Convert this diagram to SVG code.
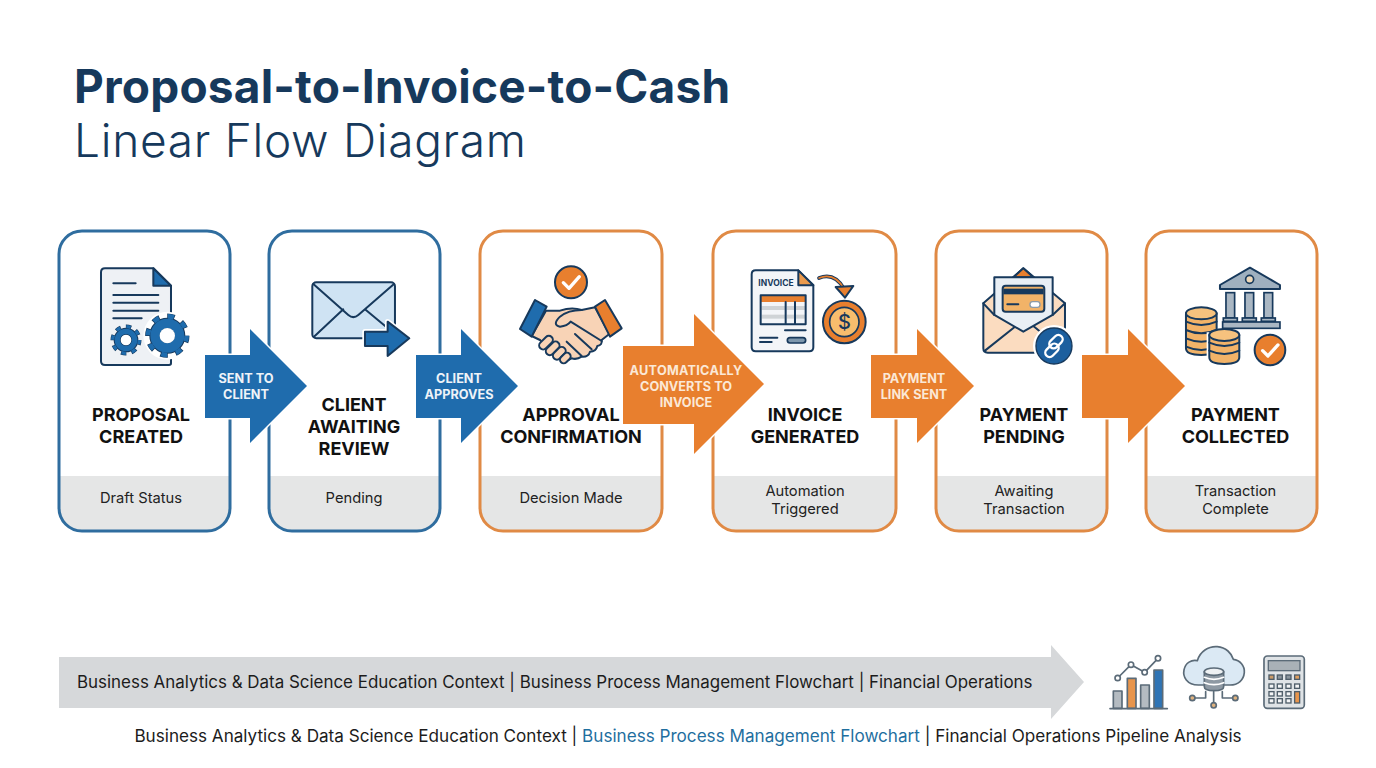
<svg xmlns="http://www.w3.org/2000/svg" width="1376" height="768" viewBox="0 0 1376 768">
<style>
text{font-family:Inter,"Noto Sans","Liberation Sans",sans-serif}
.t1{font-size:46px;font-weight:700;fill:#16395c;letter-spacing:.2px}
.t2{font-size:46px;font-weight:300;fill:#16395c;letter-spacing:.72px}
.card{fill:#fff;stroke-width:3}
.b{stroke:#2f6d9f}.o{stroke:#e08a45}
.band{fill:#e5e6e6}
.lab{font-size:18px;font-weight:700;fill:#111;text-anchor:middle}
.sub{font-size:14.7px;fill:#222;text-anchor:middle}
.al{font-size:12.7px;font-weight:700;fill:#eef3f8;text-anchor:middle}
.ao{fill:#fbe8d6}
.arr{stroke:#fff;stroke-width:3;paint-order:stroke}
.ab{fill:#1f6cad}.aor{fill:#e87f2e}
.ic{stroke:#17395c;stroke-width:6;stroke-linejoin:round;stroke-linecap:round}
.ln{fill:none;stroke:#17395c;stroke-width:6;stroke-linecap:round;stroke-linejoin:round}
.wl{fill:none;stroke:#fff;stroke-linecap:round;stroke-linejoin:round}
.gy{stroke:#5b6b78;stroke-width:5;stroke-linejoin:round;stroke-linecap:round}
.foot{font-size:16.93px;fill:#1c1c1c}
.foot2{font-size:17.13px;fill:#1c1c1c}
</style>
<rect width="1376" height="768" fill="#fff"/>
<g id="title">
<text class="t1" x="74" y="103">Proposal-to-Invoice-to-Cash</text>
<text class="t2" x="74" y="157">Linear Flow Diagram</text>
</g>
<defs>
<clipPath id="c1"><rect x="59" y="231" width="171" height="300" rx="23"/></clipPath>
<clipPath id="c2"><rect x="269" y="231" width="171" height="300" rx="23"/></clipPath>
<clipPath id="c3"><rect x="480" y="231" width="182" height="300" rx="23"/></clipPath>
<clipPath id="c4"><rect x="713" y="231" width="183" height="300" rx="23"/></clipPath>
<clipPath id="c5"><rect x="936" y="231" width="171" height="300" rx="23"/></clipPath>
<clipPath id="c6"><rect x="1146" y="231" width="171" height="300" rx="23"/></clipPath>
</defs>

<g id="node-proposal-created">
<rect class="card" x="59" y="231" width="171" height="300" rx="23" stroke="none"/>
<rect class="band" x="59" y="476" width="171" height="55" clip-path="url(#c1)"/>
<rect class="card b" x="59" y="231" width="171" height="300" rx="23" style="fill:none"/>
<g transform="translate(95,260) scale(.3333)">
<path class="ic" d="M30,25H175L228,77V310Q228,315 222,315H30Q18,315 18,303V37Q18,25 30,25Z" fill="#eef1f5"/>
<path class="ic" d="M175,25V77H228Z" fill="#1f6cad"/>
<path class="ln" d="M55,70H122M55,105H190M55,128H190M55,152H190M55,175H140" stroke-width="5"/>
<circle cx="93" cy="240" r="50" fill="#eef1f5"/><circle cx="217" cy="227" r="72" fill="#fff"/>
<g fill="none">
<circle cx="93" cy="240" r="26" stroke="#17395c" stroke-width="22"/>
<circle cx="93" cy="240" r="40" stroke="#17395c" stroke-width="13" stroke-dasharray="16 15.4" stroke-dashoffset="1.5"/>
<circle cx="93" cy="240" r="26" stroke="#1f6cad" stroke-width="16"/>
<circle cx="93" cy="240" r="40" stroke="#1f6cad" stroke-width="10" stroke-dasharray="13 18.4"/>
<circle cx="217" cy="227" r="37" stroke="#17395c" stroke-width="34"/>
<circle cx="217" cy="227" r="58" stroke="#17395c" stroke-width="17" stroke-dasharray="22 23.55" stroke-dashoffset="2"/>
<circle cx="217" cy="227" r="37" stroke="#1f6cad" stroke-width="28"/>
<circle cx="217" cy="227" r="58" stroke="#1f6cad" stroke-width="14" stroke-dasharray="18 27.55"/>
</g>
<circle cx="93" cy="240" r="16" fill="#fff"/>
<circle cx="217" cy="227" r="23" fill="#fff"/>
</g>
<text class="lab" x="141" y="421">PROPOSAL</text><text class="lab" x="141" y="443">CREATED</text>
<text class="sub" x="141" y="503">Draft Status</text>
</g>

<g id="node-client-awaiting-review">
<rect class="card" x="269" y="231" width="171" height="300" rx="23" stroke="none"/>
<rect class="band" x="269" y="476" width="171" height="55" clip-path="url(#c2)"/>
<rect class="card b" x="269" y="231" width="171" height="300" rx="23" style="fill:none"/>
<g transform="translate(50,220) scale(.3333)">
<rect class="ic" x="787" y="187" width="248" height="168" rx="12" fill="#cfe3f3"/>
<path class="ln" d="M790,192L895,285Q910,298 925,285L1032,192M792,350L880,268M945,268L1010,322"/>
<path d="M945,335H1013V305L1078,355L1013,408V378H945Z" fill="#1f6cad" stroke="#fff" stroke-width="16" stroke-linejoin="round"/>
<path class="ic" d="M945,335H1013V305L1078,355L1013,408V378H945Z" fill="#1f6cad" stroke-width="5"/>
</g>
<text class="lab" x="354" y="411">CLIENT</text><text class="lab" x="354" y="433">AWAITING</text><text class="lab" x="354" y="455">REVIEW</text>
<text class="sub" x="354" y="503">Pending</text>
</g>

<g id="node-approval-confirmation">
<rect class="card" x="480" y="231" width="182" height="300" rx="23" stroke="none"/>
<rect class="band" x="480" y="476" width="182" height="55" clip-path="url(#c3)"/>
<rect class="card o" x="480" y="231" width="182" height="300" rx="23" style="fill:none"/>
<g transform="translate(510,260) scale(.3333)">
<circle class="ic" cx="183" cy="67" r="48" fill="#e87f2e"/>
<path class="wl" stroke-width="10" d="M160,68L177,85L208,50"/>
<path class="ic" d="M108,152L150,152Q185,140 215,150L255,142L298,222L275,240Q278,255 262,258Q258,275 240,275Q235,292 215,290Q200,300 185,295L165,305Q150,300 140,290L90,240L65,228Z" fill="#f8d3b6"/>
<path class="ic" d="M75,120L110,140L65,230L30,207Z" fill="#1f6cad"/>
<path class="ic" d="M285,120L335,205L300,230L255,140Z" fill="#e87f2e"/>
<path class="ln" d="M215,150Q175,150 150,170Q125,195 150,200Q172,198 182,185L275,243M195,222L245,268M170,245L215,288"/>
<g fill="#f8d3b6" class="ic">
<rect x="84" y="236" width="48" height="24" rx="12" transform="rotate(-45 108 248)"/>
<rect x="104" y="253" width="48" height="24" rx="12" transform="rotate(-45 128 265)"/>
<rect x="126" y="268" width="44" height="24" rx="12" transform="rotate(-45 148 280)"/>
<rect x="148" y="283" width="36" height="22" rx="11" transform="rotate(-45 166 294)"/>
</g>
</g>
<text class="lab" x="571" y="421">APPROVAL</text><text class="lab" x="571" y="443">CONFIRMATION</text>
<text class="sub" x="571" y="503">Decision Made</text>
</g>

<g id="node-invoice-generated">
<rect class="card" x="713" y="231" width="183" height="300" rx="23" stroke="none"/>
<rect class="band" x="713" y="476" width="183" height="55" clip-path="url(#c4)"/>
<rect class="card o" x="713" y="231" width="183" height="300" rx="23" style="fill:none"/>
<g transform="translate(745,262) scale(.3333)">
<path class="ic" d="M32,25H160L205,70V256Q205,268 193,268H32Q20,268 20,256V37Q20,25 32,25Z" fill="#f3f5f8"/>
<path class="ic" d="M160,25V70H205Z" fill="#eb9a4c"/>
<rect x="47" y="100" width="135" height="20" fill="#e87f2e"/>
<rect x="50" y="132" width="70" height="12" fill="#cfd3d6"/><rect x="50" y="158" width="70" height="12" fill="#cfd3d6"/>
<rect x="125" y="132" width="55" height="12" fill="#cfd3d6"/><rect x="125" y="158" width="55" height="12" fill="#cfd3d6"/>
<path class="ln" stroke-width="5" d="M47,100H182V187H47ZM122,120V187M150,120V187"/>
<path class="ln" stroke-width="5" d="M120,205H182M45,227H97M45,240H80"/>
<rect x="127" y="227" width="55" height="16" rx="8" fill="#7d97ad" stroke="#17395c" stroke-width="5"/>
<path d="M222,48Q268,30 297,80" fill="none" stroke="#17395c" stroke-width="11" stroke-linecap="round"/>
<path d="M222,48Q268,30 297,80" fill="none" stroke="#e87f2e" stroke-width="5" stroke-linecap="round"/>
<path class="ic" d="M272,75L325,72L300,107Z" fill="#e87f2e" stroke-width="5"/>
<circle class="ic" cx="298" cy="180" r="64" fill="#e87f2e"/>
<circle cx="298" cy="180" r="44" fill="#f7bd6d" stroke="#17395c" stroke-width="5"/>
</g>
<text x="776" y="286" style="font-size:8.5px;font-weight:700;fill:#17395c" text-anchor="middle">INVOICE</text>
<text x="844.5" y="329" style="font-size:20px;font-weight:500;fill:#17395c" text-anchor="middle">$</text>
<text class="lab" x="805" y="421">INVOICE</text><text class="lab" x="805" y="443">GENERATED</text>
<text class="sub" x="805" y="496">Automation</text><text class="sub" x="805" y="514">Triggered</text>
</g>

<g id="node-payment-pending">
<rect class="card" x="936" y="231" width="171" height="300" rx="23" stroke="none"/>
<rect class="band" x="936" y="476" width="171" height="55" clip-path="url(#c5)"/>
<rect class="card o" x="936" y="231" width="171" height="300" rx="23" style="fill:none"/>
<g transform="translate(900,220) scale(.3333)">
<path class="ic" d="M250,250L370,145L495,250V385Q495,398 482,398H263Q250,398 250,385Z" fill="#fbdcc0"/>
<path class="ic" d="M340,172L370,145L400,172Z" fill="#e87f2e"/>
<path class="ln" d="M255,392L345,320M490,392L400,318"/>
<path class="ic" d="M283,172H458V285L370,335L283,285Z" fill="#e9eff5" stroke-width="6"/>
<path class="ln" d="M283,285L250,250M458,285L495,250"/>
<rect class="ic" x="308" y="197" width="125" height="78" rx="9" fill="#f2b368" stroke-width="5"/>
<rect x="310" y="206" width="121" height="17" fill="#17395c"/>
<path class="ln" stroke-width="5" d="M322,253H355"/>
<rect x="390" y="245" width="30" height="17" rx="8" fill="#fff" stroke="#8b9aa8" stroke-width="4"/>
<circle cx="462" cy="378" r="63" fill="#fff"/>
<circle cx="462" cy="378" r="54" fill="#1c5f9e" stroke="#17395c" stroke-width="4"/>
<g class="wl" stroke-width="7">
<rect x="455" y="342" width="26" height="46" rx="13" transform="rotate(45 468 365)"/>
<rect x="443" y="368" width="26" height="46" rx="13" transform="rotate(45 456 391)"/>
</g>
</g>
<text class="lab" x="1024" y="421">PAYMENT</text><text class="lab" x="1024" y="443">PENDING</text>
<text class="sub" x="1024" y="496">Awaiting</text><text class="sub" x="1024" y="514">Transaction</text>
</g>

<g id="node-payment-collected">
<rect class="card" x="1146" y="231" width="171" height="300" rx="23" stroke="none"/>
<rect class="band" x="1146" y="476" width="171" height="55" clip-path="url(#c6)"/>
<rect class="card o" x="1146" y="231" width="171" height="300" rx="23" style="fill:none"/>
<g transform="translate(900,220) scale(.3333)">
<path class="ic" d="M1050,143L1140,195V207H960V195Z" fill="#9fb0bf"/>
<circle cx="1049" cy="178" r="12" fill="#f0d9b8" stroke="#17395c" stroke-width="5"/>
<g fill="#aab7c3" stroke="#17395c" stroke-width="5">
<rect x="978" y="218" width="26" height="76"/><rect x="1035" y="218" width="26" height="76"/><rect x="1092" y="218" width="26" height="76"/>
<rect x="970" y="294" width="42" height="10"/><rect x="1027" y="294" width="42" height="10"/><rect x="1084" y="294" width="42" height="10"/>
<rect x="968" y="306" width="172" height="19"/>
</g>
<path class="ic" d="M858,280V385Q858,405 904,405Q950,405 950,385V280Z" fill="#f2b368"/>
<path class="ln" stroke-width="5" d="M858,305Q904,325 950,305M858,330Q904,350 950,330M858,355Q904,375 950,355M858,380Q904,400 950,380"/>
<ellipse cx="904" cy="280" rx="46" ry="18" fill="#f6c27e" stroke="#17395c" stroke-width="6"/>
<path d="M928,345V412Q928,432 973,432Q1018,432 1018,412V345Z" fill="#f2b368" stroke="#fff" stroke-width="16"/>
<path class="ic" d="M928,345V412Q928,432 973,432Q1018,432 1018,412V345Z" fill="#f2b368"/>
<path class="ln" stroke-width="5" d="M928,368Q973,388 1018,368M928,392Q973,412 1018,392"/>
<ellipse cx="973" cy="345" rx="45" ry="18" fill="#f6c27e" stroke="#17395c" stroke-width="6"/>
<circle cx="1110" cy="390" r="46" fill="#e87f2e" stroke="#17395c" stroke-width="6"/>
<path class="wl" stroke-width="10" d="M1088,392L1104,408L1134,375"/>
</g>
<text class="lab" x="1235.5" y="421">PAYMENT</text><text class="lab" x="1235.5" y="443">COLLECTED</text>
<text class="sub" x="1235.5" y="496">Transaction</text><text class="sub" x="1235.5" y="514">Complete</text>
</g>

<g id="connectors">
<path class="arr ab" d="M205,355H250V329L307,386L250,443V418H205Z"/>
<text class="al" x="246" y="383">SENT TO</text><text class="al" x="246" y="399">CLIENT</text>
<path class="arr ab" d="M416,355H461V329L518,386L461,443V418H416Z"/>
<text class="al" x="459" y="383">CLIENT</text><text class="al" x="459" y="399">APPROVES</text>
<path class="arr aor" d="M623,346H694V314L764,384L694,454V424H623Z"/>
<text class="al ao" x="686" y="375" style="letter-spacing:.25px">AUTOMATICALLY</text><text class="al ao" x="686" y="391">CONVERTS TO</text><text class="al ao" x="686" y="407">INVOICE</text>
<path class="arr aor" d="M871,355H917V329L974,386L917,443V418H871Z"/>
<text class="al ao" x="914" y="383">PAYMENT</text><text class="al ao" x="914" y="399">LINK SENT</text>
<path class="arr aor" d="M1082,355H1128V329L1185,386L1128,443V418H1082Z"/>
</g>

<g id="context-banner">
<path d="M59,657H1051V645L1084,682L1051,719V708H59Z" fill="#d6d8da"/>
<text class="foot" x="77" y="688">Business Analytics &amp; Data Science Education Context | Business Process Management Flowchart | Financial Operations</text>
</g>
<g id="banner-icons" transform="translate(1060,630) scale(.3333)">
<g class="gy" stroke-width="4">
<rect x="160" y="183" width="26" height="52" fill="#b4bbc1"/><rect x="202" y="145" width="26" height="90" fill="#e8954c"/>
<rect x="242" y="165" width="26" height="70" fill="#b4bbc1"/><rect x="282" y="120" width="26" height="115" fill="#2f74b5"/>
<path fill="none" d="M150,236H322M173,144L213,104L254,127L294,85"/>
<g fill="#fff"><circle cx="173" cy="144" r="8"/><circle cx="213" cy="104" r="8"/><circle cx="254" cy="127" r="8"/><circle cx="294" cy="85" r="8"/></g>
</g>
<path class="gy" d="M415,165C380,165 368,140 372,120C376,98 395,88 412,92C420,65 445,48 472,50C498,52 515,70 520,88C540,90 555,108 553,128C551,150 535,165 510,165Z" fill="#dbe9f4"/>
<g class="gy" stroke-width="4">
<path fill="none" d="M437,185V204H405M461,185V218M487,185V204H518"/>
<path fill="#8e99a3" d="M433,125V170Q433,182 462,182Q491,182 491,170V125Z"/>
<path fill="none" stroke="#fff" d="M433,142Q462,154 491,142M433,158Q462,170 491,158"/>
<ellipse cx="462" cy="125" rx="29" ry="11" fill="#eef1f3"/>
<g fill="#e0b27e"><circle cx="397" cy="204" r="8"/><circle cx="461" cy="226" r="8"/><circle cx="526" cy="204" r="8"/></g>
</g>
<rect class="gy" x="612" y="78" width="121" height="157" rx="10" fill="#dfe3e6"/>
<rect x="625" y="92" width="95" height="30" fill="#a9b1b7" stroke="#5b6b78" stroke-width="4"/>
<g fill="#f4f5f6" stroke="#4e5d69" stroke-width="4">
<rect x="627" y="135" width="15" height="13" fill="#c99a68"/><rect x="652" y="135" width="15" height="13" fill="#8a949c"/><rect x="678" y="135" width="15" height="13" fill="#8a949c"/><rect x="704" y="135" width="15" height="13" fill="#e0a060"/>
<rect x="627" y="162" width="15" height="13"/><rect x="652" y="162" width="15" height="13"/><rect x="678" y="162" width="15" height="13"/><rect x="704" y="162" width="15" height="13"/>
<rect x="627" y="185" width="15" height="13"/><rect x="652" y="185" width="15" height="13"/><rect x="678" y="185" width="15" height="13"/>
<rect x="627" y="206" width="15" height="13"/><rect x="652" y="206" width="15" height="13"/><rect x="678" y="206" width="15" height="13"/>
<rect x="704" y="185" width="15" height="34" fill="#e8954c"/>
</g>
</g>
<g id="footer">
<text class="foot2" x="688" y="742" text-anchor="middle">Business Analytics &amp; Data Science Education Context | <tspan fill="#1f6f9f">Business Process Management Flowchart</tspan> | Financial Operations Pipeline Analysis</text>
</g>
</svg>
